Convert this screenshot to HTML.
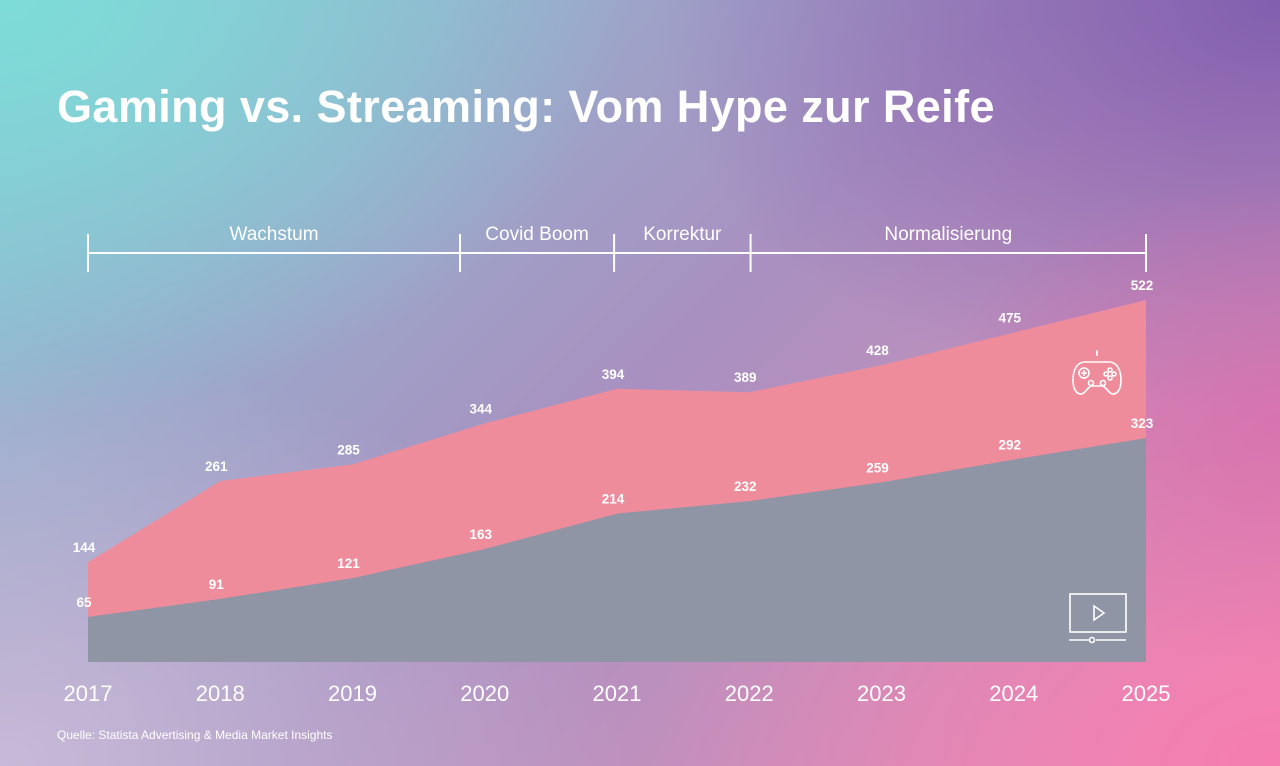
<!DOCTYPE html>
<html><head><meta charset="utf-8">
<style>
html,body{margin:0;padding:0}
body{width:1280px;height:766px;overflow:hidden;position:relative;font-family:"Liberation Sans",sans-serif;
background:
radial-gradient(ellipse 500px 350px at 100% 55%, rgba(215,105,170,0.7) 0%, rgba(215,105,170,0) 70%),
radial-gradient(ellipse 900px 600px at 0% 0%, rgba(125,220,215,1) 0%, rgba(125,220,215,0) 70%),
radial-gradient(ellipse 900px 600px at 100% 0%, rgba(130,95,175,1) 0%, rgba(130,95,175,0) 70%),
radial-gradient(ellipse 900px 600px at 100% 100%, rgba(245,125,175,1) 0%, rgba(245,125,175,0) 70%),
radial-gradient(ellipse 900px 600px at 0% 100%, rgba(200,185,215,1) 0%, rgba(200,185,215,0) 70%),
linear-gradient(135deg,#8cc6d8 0%,#a890c0 50%,#e890b8 100%);}
h1{position:absolute;left:57px;top:81px;margin:0;font-size:45px;font-weight:bold;color:#fff;letter-spacing:0.4px}
.src{position:absolute;left:57px;top:728px;font-size:12px;color:#fff}
svg{position:absolute;left:0;top:0}
</style></head><body>
<h1>Gaming vs. Streaming: Vom Hype zur Reife</h1>
<svg id="chart" width="1280" height="766"></svg>
<div class="src">Quelle: Statista Advertising &amp; Media Market Insights</div>
<script>
const years=["2017","2018","2019","2020","2021","2022","2023","2024","2025"];
const gaming=[144,261,285,344,394,389,428,475,522];
const streaming=[65,91,121,163,214,232,259,292,323];
const phases=["Wachstum","Covid Boom","Korrektur","Normalisierung"];
const phaseBounds=[0,2.813,3.978,5.01,8];
const NS="http://www.w3.org/2000/svg";
const svg=document.getElementById('chart');
const x0=88,x1=1146,base=662,k=0.6935;
const X=i=>x0+(x1-x0)*i/(years.length-1);
const Y=v=>base-v*k;
function el(t,a){const e=document.createElementNS(NS,t);for(const n in a)e.setAttribute(n,a[n]);svg.appendChild(e);return e;}
function area(vals,fill,name){
 let d="M"+X(0)+","+base;
 vals.forEach((v,i)=>d+=" L"+X(i)+","+Y(v));
 d+=" L"+X(vals.length-1)+","+base+" Z";
 const p=el('path',{d:d,fill:fill});
 
 
}
area(gaming,"#ee8c9c","gaming-area");
area(streaming,"#8f95a4","streaming-area");
function lbl(vals,name){
 vals.forEach((v,i)=>{
  const t=el('text',{x:X(i)-4,y:Y(v)-10,'text-anchor':'middle',fill:'#fff','font-size':13.5,'font-weight':'bold'});
  t.textContent=v;
  
  
 });
}
lbl(gaming,"gaming");lbl(streaming,"streaming");
years.forEach((y,i)=>{
 const t=el('text',{x:X(i),y:701,'text-anchor':'middle',fill:'#fff','font-size':22});
 t.textContent=y;
 
 
});
const pl=el('line',{x1:X(0),x2:X(8),y1:253,y2:253,stroke:'#fff','stroke-width':2});


phaseBounds.forEach(b=>{
 const t=el('line',{x1:X(b),x2:X(b),y1:234,y2:272,stroke:'#fff','stroke-width':2});
 
 
});
phases.forEach((p,i)=>{
 const t=el('text',{x:(X(phaseBounds[i])+X(phaseBounds[i+1]))/2,y:240,'text-anchor':'middle',fill:'#fff','font-size':19});
 t.textContent=p;
 
 
});
const g=document.createElementNS(NS,'g');


g.setAttribute('fill','none');g.setAttribute('stroke','#fff');g.setAttribute('stroke-width','1.6');
g.innerHTML='<path d="M1097,350 v6 M1085,362 h24 c8,0 12,8 12,18 c0,10 -4,14 -8,14 c-4,0 -6,-6 -10,-8 h-12 c-4,2 -6,8 -10,8 c-4,0 -8,-4 -8,-14 c0,-10 4,-18 12,-18z"/><circle cx="1084" cy="373" r="5"/><path d="M1081,373h6M1084,370v6"/><circle cx="1110" cy="370" r="2"/><circle cx="1106" cy="374" r="2"/><circle cx="1114" cy="374" r="2"/><circle cx="1110" cy="378" r="2"/><circle cx="1091" cy="383" r="2.5"/><circle cx="1103" cy="383" r="2.5"/>';
svg.appendChild(g);
const s=document.createElementNS(NS,'g');


s.setAttribute('fill','none');s.setAttribute('stroke','#fff');s.setAttribute('stroke-width','1.6');
s.innerHTML='<rect x="1070" y="594" width="56" height="38"/><path d="M1094,606 l10,7 l-10,7z"/><path d="M1069,640h20M1096,640h30"/><circle cx="1092" cy="640" r="2.5"/>';
svg.appendChild(s);
</script>
</body></html>
